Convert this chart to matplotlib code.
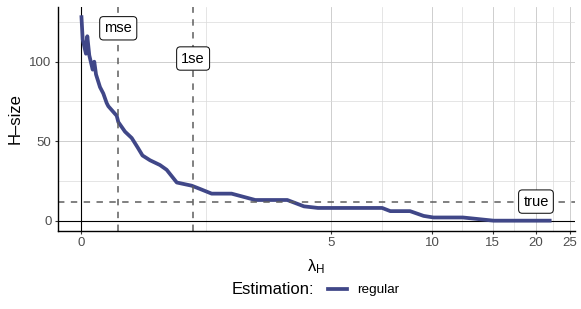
import numpy as np
import matplotlib.pyplot as plt
from matplotlib.lines import Line2D

plt.rcParams['font.family'] = ['Liberation Sans', 'DejaVu Sans']
plt.rcParams['mathtext.fontset'] = 'custom'
plt.rcParams['mathtext.rm'] = 'Liberation Sans'
plt.rcParams['mathtext.it'] = 'Liberation Sans:italic'

# path of the estimated H-size along lambda_H
lam = [0, 0.016, 0.059, 0.077, 0.103, 0.148, 0.169, 0.192, 0.245, 0.289,
       0.334, 0.356, 0.469, 0.491, 0.582, 0.675, 0.759, 0.827, 0.935, 1.082,
       1.184, 1.342, 1.586, 1.725, 1.937, 2.32, 2.83, 3.63, 4.11, 4.55,
       7.13, 7.54, 8.62, 9.45, 10.1, 12.3, 15.1, 21.9]
hsize = [128, 114, 105, 116, 104, 95, 100, 92, 84, 80,
         74, 72, 66, 62, 56, 52, 46, 41, 38, 35,
         32, 24, 22, 20, 17, 17, 13, 13, 9, 8,
         8, 6, 6, 3, 2, 2, 0, 0]

lam_mse = 0.49
lam_1se = 1.61
true_size = 12
x_ticks = [0, 5, 10, 15, 20, 25]
y_ticks = [0, 50, 100]
y_minor = [25, 75, 125]

line_col = '#404788'
dash_col = '#5E5E5E'


def fwd(x):
    return np.arcsinh(np.asarray(x, dtype=float) / 2)


def inv(t):
    return 2 * np.sinh(np.asarray(t, dtype=float))


fig = plt.figure(figsize=(5.81, 3.09), dpi=100)
ax = fig.add_axes([57.7 / 581, 1 - 231 / 309, (575 - 57.7) / 581, (231 - 7) / 309])
ax.set_xscale('function', functions=(fwd, inv))
ax.set_xlim(-0.315, 25.9)
ax.set_ylim(-6.5, 134.4)

# minor breaks halfway between majors in the transformed space
tm = fwd(x_ticks)
x_minor = inv((tm[:-1] + tm[1:]) / 2)

ax.set_xticks(x_ticks)
ax.set_xticks(x_minor, minor=True)
ax.set_yticks(y_ticks)
ax.set_yticks(y_minor, minor=True)
ax.set_axisbelow(True)
ax.grid(which='major', color='#C6C6C6', lw=0.6)
ax.grid(which='minor', color='#DADADA', lw=0.5)

for s in ['top', 'right']:
    ax.spines[s].set_visible(False)
for s in ['left', 'bottom']:
    ax.spines[s].set_linewidth(1.0)
ax.tick_params(which='major', length=2.5, width=0.8, pad=2, labelsize=9.5,
               labelcolor='#4D4D4D', color='#333333')
ax.tick_params(which='minor', length=0)

ax.axhline(0, color='black', lw=0.8)
ax.axvline(0, color='black', lw=0.8)

ax.plot(lam, hsize, color=line_col, lw=2.7, solid_joinstyle='round')

ax.axvline(lam_mse, color=dash_col, lw=1.1, ls=(0, (4.2, 4.2)))
ax.axvline(lam_1se, color=dash_col, lw=1.1, ls=(0, (4.2, 4.2)))
ax.axhline(true_size, color=dash_col, lw=1.1, ls=(0, (4.2, 4.2)))

box = dict(boxstyle='round,pad=0.32,rounding_size=0.25', fc='white', ec='black', lw=0.7)
ax.text(lam_mse, 121, 'mse', ha='center', va='center', fontsize=10.5, bbox=box)
ax.text(lam_1se, 102, '1se', ha='center', va='center', fontsize=10.5, bbox=box)
ax.text(20, true_size, 'true', ha='center', va='center', fontsize=10.5, bbox=box)

ax.set_xlabel(r'$\mathrm{\lambda}_{\mathrm{H}}$', fontsize=12, va='center')
ax.xaxis.set_label_coords(0.5, (231 - 267) / 224)
ax.set_ylabel('H\u2013size', fontsize=12, va='center')
ax.yaxis.set_label_coords((15 - 57.7) / 517.3, 0.5)

fig.text(232 / 581, 1 - 290 / 309, 'Estimation:', fontsize=12, va='center')
fig.legend(handles=[Line2D([], [], color=line_col, lw=2.7)], labels=['regular'],
           loc='center left', bbox_to_anchor=(328 / 581, 1 - 290 / 309),
           frameon=False, borderpad=0, borderaxespad=0, handlelength=1.4,
           handletextpad=0.75, fontsize=9.7)

fig.savefig('out.png', dpi=100)
